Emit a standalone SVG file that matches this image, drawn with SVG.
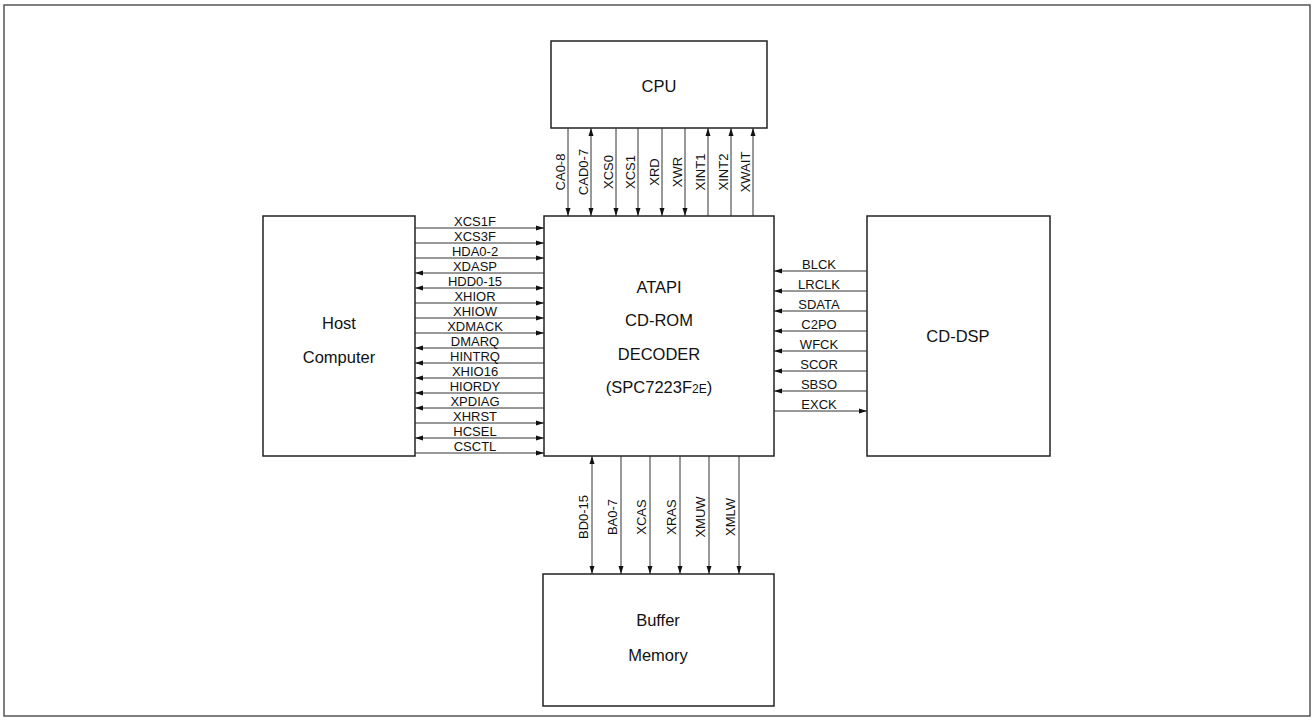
<svg xmlns="http://www.w3.org/2000/svg" width="1314" height="720" viewBox="0 0 1314 720">
<style>
.box{fill:#fff;stroke:#222;stroke-width:1.5}
.frame{fill:#fff;stroke:#555;stroke-width:1.5}
.w{stroke:#333;stroke-width:1;fill:none}
.t{font-family:"Liberation Sans",Arial,sans-serif;font-size:16.5px;fill:#111;text-anchor:middle}
.s{font-family:"Liberation Sans",Arial,sans-serif;font-size:13px;fill:#111;text-anchor:middle}
</style>
<defs>
<marker id="a" markerUnits="userSpaceOnUse" markerWidth="8" markerHeight="6" refX="8" refY="3" orient="auto-start-reverse" viewBox="0 0 8 6">
<path d="M0,0.5 L8,3 L0,5.5 z" fill="#111"/>
</marker>
</defs>
<rect class="frame" x="4" y="5" width="1306" height="711"/>
<g id="cpu"><rect class="box" x="551" y="41" width="216" height="87"/><text class="t" x="659" y="92">CPU</text></g>
<g id="decoder"><rect class="box" x="544" y="216" width="230" height="240"/>
<text class="t" x="659" y="293">ATAPI</text>
<text class="t" x="659" y="326">CD-ROM</text>
<text class="t" x="659" y="360">DECODER</text>
<text class="t" x="659" y="393">(SPC7223F<tspan font-size="12">2E</tspan>)</text></g>
<g id="host"><rect class="box" x="263" y="216" width="152" height="240"/><text class="t" x="339" y="329">Host</text><text class="t" x="339" y="363">Computer</text></g>
<g id="cddsp"><rect class="box" x="867" y="216" width="183" height="240"/><text class="t" x="958" y="342">CD-DSP</text></g>
<g id="buffer"><rect class="box" x="543" y="574" width="231" height="132"/><text class="t" x="658" y="626">Buffer</text><text class="t" x="658" y="661">Memory</text></g>
<g id="connectors">
<line class="w" x1="568" y1="128" x2="568" y2="216" marker-end="url(#a)"/>
<line class="w" x1="591" y1="128" x2="591" y2="216" marker-start="url(#a)" marker-end="url(#a)"/>
<line class="w" x1="616" y1="128" x2="616" y2="216" marker-end="url(#a)"/>
<line class="w" x1="638" y1="128" x2="638" y2="216" marker-end="url(#a)"/>
<line class="w" x1="662" y1="128" x2="662" y2="216" marker-end="url(#a)"/>
<line class="w" x1="685" y1="128" x2="685" y2="216" marker-end="url(#a)"/>
<line class="w" x1="708" y1="216" x2="708" y2="128" marker-end="url(#a)"/>
<line class="w" x1="731" y1="216" x2="731" y2="128" marker-end="url(#a)"/>
<line class="w" x1="753" y1="216" x2="753" y2="128" marker-end="url(#a)"/>
<text class="s" transform="translate(565,172) rotate(-90)">CA0-8</text>
<text class="s" transform="translate(588,172) rotate(-90)">CAD0-7</text>
<text class="s" transform="translate(613,172) rotate(-90)">XCS0</text>
<text class="s" transform="translate(635,172) rotate(-90)">XCS1</text>
<text class="s" transform="translate(659,172) rotate(-90)">XRD</text>
<text class="s" transform="translate(682,172) rotate(-90)">XWR</text>
<text class="s" transform="translate(705,172) rotate(-90)">XINT1</text>
<text class="s" transform="translate(728,172) rotate(-90)">XINT2</text>
<text class="s" transform="translate(750,172) rotate(-90)">XWAIT</text>
<line class="w" x1="415" y1="228" x2="544" y2="228" marker-end="url(#a)"/>
<line class="w" x1="415" y1="243" x2="544" y2="243" marker-end="url(#a)"/>
<line class="w" x1="415" y1="258" x2="544" y2="258" marker-end="url(#a)"/>
<line class="w" x1="544" y1="273" x2="415" y2="273" marker-end="url(#a)"/>
<line class="w" x1="415" y1="288" x2="544" y2="288" marker-start="url(#a)" marker-end="url(#a)"/>
<line class="w" x1="415" y1="303" x2="544" y2="303" marker-end="url(#a)"/>
<line class="w" x1="415" y1="318" x2="544" y2="318" marker-end="url(#a)"/>
<line class="w" x1="415" y1="333" x2="544" y2="333" marker-end="url(#a)"/>
<line class="w" x1="544" y1="348" x2="415" y2="348" marker-end="url(#a)"/>
<line class="w" x1="544" y1="363" x2="415" y2="363" marker-end="url(#a)"/>
<line class="w" x1="544" y1="378" x2="415" y2="378" marker-end="url(#a)"/>
<line class="w" x1="544" y1="393" x2="415" y2="393" marker-end="url(#a)"/>
<line class="w" x1="544" y1="408" x2="415" y2="408" marker-end="url(#a)"/>
<line class="w" x1="415" y1="423" x2="544" y2="423" marker-end="url(#a)"/>
<line class="w" x1="415" y1="438" x2="544" y2="438" marker-start="url(#a)" marker-end="url(#a)"/>
<line class="w" x1="415" y1="453" x2="544" y2="453" marker-end="url(#a)"/>
<text class="s" x="475" y="225.5">XCS1F</text>
<text class="s" x="475" y="240.5">XCS3F</text>
<text class="s" x="475" y="255.5">HDA0-2</text>
<text class="s" x="475" y="270.5">XDASP</text>
<text class="s" x="475" y="285.5">HDD0-15</text>
<text class="s" x="475" y="300.5">XHIOR</text>
<text class="s" x="475" y="315.5">XHIOW</text>
<text class="s" x="475" y="330.5">XDMACK</text>
<text class="s" x="475" y="345.5">DMARQ</text>
<text class="s" x="475" y="360.5">HINTRQ</text>
<text class="s" x="475" y="375.5">XHIO16</text>
<text class="s" x="475" y="390.5">HIORDY</text>
<text class="s" x="475" y="405.5">XPDIAG</text>
<text class="s" x="475" y="420.5">XHRST</text>
<text class="s" x="475" y="435.5">HCSEL</text>
<text class="s" x="475" y="450.5">CSCTL</text>
<line class="w" x1="867" y1="271" x2="774" y2="271" marker-end="url(#a)"/>
<line class="w" x1="867" y1="291" x2="774" y2="291" marker-end="url(#a)"/>
<line class="w" x1="867" y1="311" x2="774" y2="311" marker-end="url(#a)"/>
<line class="w" x1="867" y1="331" x2="774" y2="331" marker-end="url(#a)"/>
<line class="w" x1="867" y1="351" x2="774" y2="351" marker-end="url(#a)"/>
<line class="w" x1="867" y1="371" x2="774" y2="371" marker-end="url(#a)"/>
<line class="w" x1="867" y1="391" x2="774" y2="391" marker-end="url(#a)"/>
<line class="w" x1="774" y1="411" x2="867" y2="411" marker-end="url(#a)"/>
<text class="s" x="819" y="268.5">BLCK</text>
<text class="s" x="819" y="288.5">LRCLK</text>
<text class="s" x="819" y="308.5">SDATA</text>
<text class="s" x="819" y="328.5">C2PO</text>
<text class="s" x="819" y="348.5">WFCK</text>
<text class="s" x="819" y="368.5">SCOR</text>
<text class="s" x="819" y="388.5">SBSO</text>
<text class="s" x="819" y="408.5">EXCK</text>
<line class="w" x1="592" y1="456" x2="592" y2="574" marker-start="url(#a)" marker-end="url(#a)"/>
<line class="w" x1="621" y1="456" x2="621" y2="574" marker-end="url(#a)"/>
<line class="w" x1="650" y1="456" x2="650" y2="574" marker-end="url(#a)"/>
<line class="w" x1="680" y1="456" x2="680" y2="574" marker-end="url(#a)"/>
<line class="w" x1="709" y1="456" x2="709" y2="574" marker-end="url(#a)"/>
<line class="w" x1="739" y1="456" x2="739" y2="574" marker-end="url(#a)"/>
<text class="s" transform="translate(588,517) rotate(-90)">BD0-15</text>
<text class="s" transform="translate(617,517) rotate(-90)">BA0-7</text>
<text class="s" transform="translate(646,517) rotate(-90)">XCAS</text>
<text class="s" transform="translate(676,517) rotate(-90)">XRAS</text>
<text class="s" transform="translate(705,517) rotate(-90)">XMUW</text>
<text class="s" transform="translate(735,517) rotate(-90)">XMLW</text>
</g>
</svg>
